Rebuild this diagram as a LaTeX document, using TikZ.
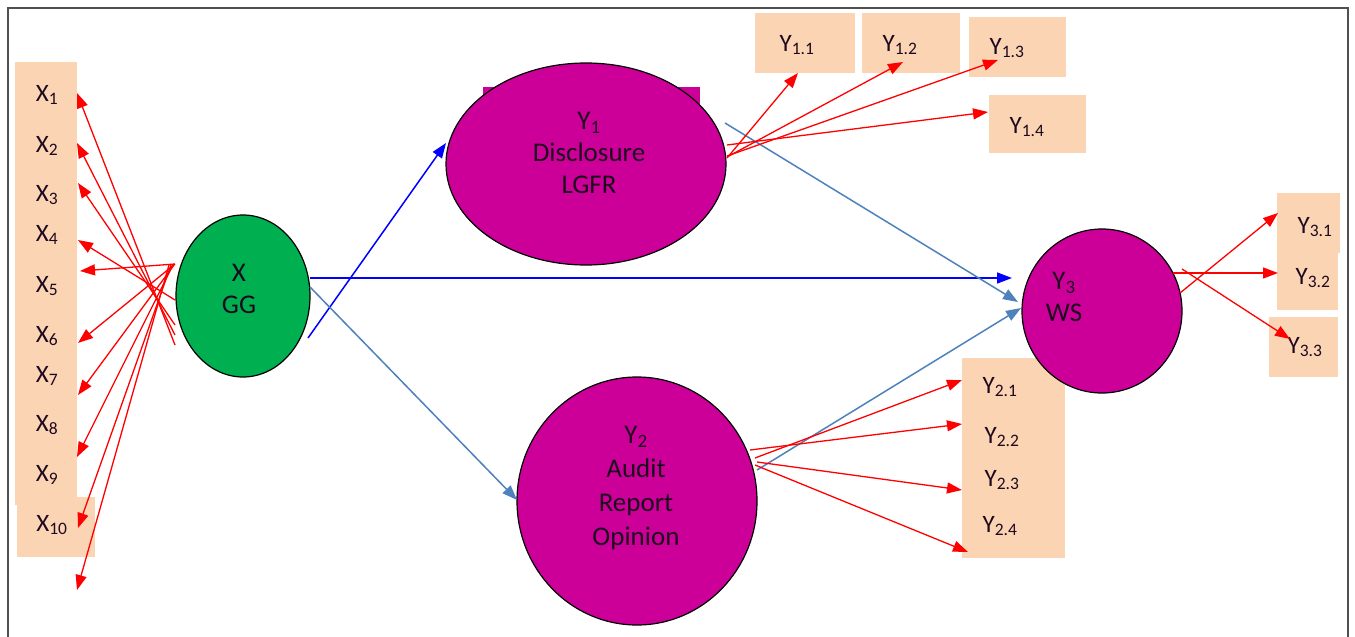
\documentclass[tikz,border=0pt]{standalone}
\usepackage{fontspec}
\setmainfont{Carlito}
\usetikzlibrary{arrows.meta,shapes.geometric}
\definecolor{peach}{RGB}{251,212,180}
\definecolor{mag}{RGB}{204,0,153}
\definecolor{ggreen}{RGB}{0,176,80}
\definecolor{steel}{RGB}{79,129,189}
\definecolor{frame}{RGB}{80,80,80}
\definecolor{ink}{RGB}{30,10,30}
\begin{document}
\begin{tikzpicture}[x=1pt,y=-1pt,
 box/.style={fill=peach, draw=none, inner sep=0pt, anchor=north west},
 lbl/.style={font=\fontsize{25}{28}\selectfont, text=ink, inner sep=0pt},
 ctext/.style={font=\fontsize{27}{32}\selectfont, text=ink, align=center, inner sep=0pt},
 lv/.style={ellipse, draw=black, line width=1.2pt, inner sep=0pt},
 redarr/.style={draw=red, line width=1.3pt, -{Triangle[length=15pt,width=11pt]}},
 bluearr/.style={draw=blue, line width=1.5pt, -{Triangle[length=15pt,width=11pt]}},
 steelarr/.style={draw=steel, line width=1.5pt, -{Triangle[length=15pt,width=11pt]}}
]
\useasboundingbox (0,0) rectangle (1355,637);
\fill[white] (0,0) rectangle (1355,637);
\draw[frame, line width=2pt] (8,637) -- (8,8) -- (1348,8) -- (1348,637);

% peach boxes
\node[box, minimum width=62pt, minimum height=443pt] (xcol) at (15,62) {};
\node[box, minimum width=78pt, minimum height=60pt] (x10box) at (17,497) {};
\node[box, minimum width=100pt, minimum height=60pt] (b11) at (755,13) {};
\node[box, minimum width=98pt, minimum height=60pt] (b12) at (862,13) {};
\node[box, minimum width=97pt, minimum height=60pt] (b13) at (969,17) {};
\node[box, minimum width=97pt, minimum height=58pt] (b14) at (989,95) {};
\node[box, minimum width=103pt, minimum height=200pt] (b2) at (962,358) {};
\node[box, minimum width=63pt, minimum height=60pt] (b31) at (1277,193) {};
\node[box, minimum width=61pt, minimum height=57pt] (b32) at (1277,253) {};
\node[box, minimum width=69pt, minimum height=60pt] (b33) at (1269,317) {};

% X labels
\node[lbl] (x1) at (47,95) {X\textsubscript{1}};
\node[lbl] (x2) at (47,146) {X\textsubscript{2}};
\node[lbl] (x3) at (47,195) {X\textsubscript{3}};
\node[lbl] (x4) at (47,235) {X\textsubscript{4}};
\node[lbl] (x5) at (47,286) {X\textsubscript{5}};
\node[lbl] (x6) at (47,336) {X\textsubscript{6}};
\node[lbl] (x7) at (47,376) {X\textsubscript{7}};
\node[lbl] (x8) at (47,425) {X\textsubscript{8}};
\node[lbl] (x9) at (47,475) {X\textsubscript{9}};
\node[lbl] (x10) at (52,525) {X\textsubscript{10}};

% Y labels
\node[lbl] (y11) at (797,45) {Y\textsubscript{1.1}};
\node[lbl] (y12) at (900,45) {Y\textsubscript{1.2}};
\node[lbl] (y13) at (1007,48) {Y\textsubscript{1.3}};
\node[lbl] (y14) at (1027,127) {Y\textsubscript{1.4}};
\node[lbl] (y21) at (1000,387) {Y\textsubscript{2.1}};
\node[lbl] (y22) at (1002,437) {Y\textsubscript{2.2}};
\node[lbl] (y23) at (1002,480) {Y\textsubscript{2.3}};
\node[lbl] (y24) at (1000,526) {Y\textsubscript{2.4}};
\node[lbl] (y31) at (1315,227) {Y\textsubscript{3.1}};
\node[lbl] (y32) at (1313,278) {Y\textsubscript{3.2}};
\node[lbl] (y33) at (1305,347) {Y\textsubscript{3.3}};

% latent variables
\fill[mag] (483,87) rectangle (700,200);
\node[lv, fill=mag, minimum width=280pt, minimum height=202pt] (Y1) at (586,164) {};
\node[lv, fill=ggreen, minimum width=134pt, minimum height=162pt] (GG) at (243,296) {};
\node[lv, fill=mag, minimum width=240pt, minimum height=248pt] (Y2) at (637,501) {};
\node[lv, fill=mag, minimum width=160pt, minimum height=164pt] (Y3) at (1102,311) {};

\node[ctext] (Y1t) at (589,153) {Y\textsubscript{1}\\Disclosure\\LGFR};
\node[ctext] (GGt) at (239,289) {X\\GG};
\node[ctext, font=\fontsize{27}{34}\selectfont] (Y2t) at (636,488) {Y\textsubscript{2}\\Audit\\Report\\Opinion};
\node[ctext] (Y3t) at (1064,297) {Y\textsubscript{3}\\WS};

% coordinates for connector ends
\coordinate (gs1) at (175,345); \coordinate (xe1) at (77,93);
\coordinate (gs2) at (175,335); \coordinate (xe2) at (77,143);
\coordinate (gs3) at (175,325); \coordinate (xe3) at (78,183);
\coordinate (gs4) at (175,300); \coordinate (xe4) at (78,240);
\coordinate (gs5) at (175,264); \coordinate (xe5) at (80,271);
\coordinate (gs6) at (175,264); \coordinate (xe6) at (78,343);
\coordinate (gs7) at (174,265); \coordinate (xe7) at (78,395);
\coordinate (gs8) at (173,265); \coordinate (xe8) at (77,457);
\coordinate (gs9) at (171,265); \coordinate (xe9) at (78,528);
\coordinate (gs10) at (169,265); \coordinate (xe10) at (77,590);

\foreach \i in {1,...,10} \draw[redarr] (gs\i) -- (xe\i);

% structural paths
\coordinate (gY1s) at (308,338); \coordinate (gY1e) at (446,143);
\coordinate (gY3s) at (310,278); \coordinate (gY3e) at (1012,278);
\coordinate (gY2s) at (310,287); \coordinate (gY2e) at (517,500);
\coordinate (y1Y3s) at (725,123); \coordinate (y1Y3e) at (1018,302);
\coordinate (y2Y3s) at (757,470); \coordinate (y2Y3e) at (1021,308);
\draw[bluearr] (gY1s) -- (gY1e);
\draw[bluearr] (gY3s) -- (gY3e);
\draw[steelarr] (gY2s) -- (gY2e);
\draw[steelarr] (y1Y3s) -- (y1Y3e);
\draw[steelarr] (y2Y3s) -- (y2Y3e);

% Y1 indicators
\coordinate (a11) at (727,158); \coordinate (e11) at (798,73);
\coordinate (a12) at (727,157); \coordinate (e12) at (903,62);
\coordinate (a13) at (727,156); \coordinate (e13) at (998,60);
\coordinate (a14) at (727,145); \coordinate (e14) at (988,112);
\draw[redarr] (a11) -- (e11);
\draw[redarr] (a12) -- (e12);
\draw[redarr] (a13) -- (e13);
\draw[redarr] (a14) -- (e14);

% Y2 indicators
\coordinate (a21) at (755,458); \coordinate (e21) at (962,380);
\coordinate (a22) at (750,450); \coordinate (e22) at (962,424);
\coordinate (a23) at (757,462); \coordinate (e23) at (962,490);
\coordinate (a24) at (755,465); \coordinate (e24) at (968,552);
\draw[redarr] (a21) -- (e21);
\draw[redarr] (a22) -- (e22);
\draw[redarr] (a23) -- (e23);
\draw[redarr] (a24) -- (e24);

% Y3 indicators
\coordinate (a31) at (1180,293); \coordinate (e31) at (1278,213);
\coordinate (a32) at (1173,273); \coordinate (e32) at (1278,273);
\coordinate (a33) at (1182,269); \coordinate (e33) at (1290,339);
\draw[redarr] (a31) -- (e31);
\draw[redarr] (a32) -- (e32);
\draw[redarr] (a33) -- (e33);
\end{tikzpicture}
\end{document}
